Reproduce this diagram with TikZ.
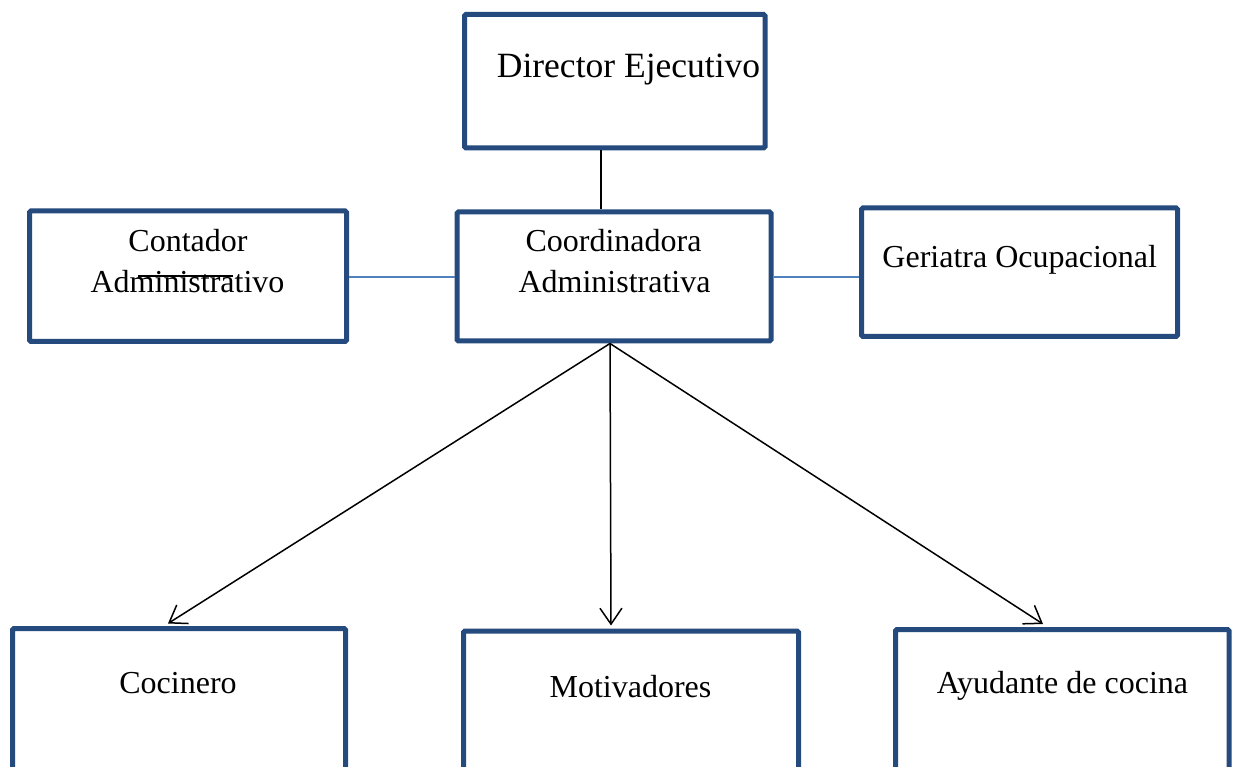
\documentclass[tikz,border=0pt]{standalone}
\usepackage{fontspec}
\setmainfont{Liberation Serif}
\usetikzlibrary{arrows.meta,calc}
\definecolor{boxblue}{RGB}{36,74,126}
\definecolor{linkblue}{RGB}{79,129,189}
\begin{document}
\begin{tikzpicture}[x=1pt,y=-1pt,
  box/.style={draw=boxblue,line width=5pt,rounded corners=1.5pt,inner sep=0pt,fill=white},
  lbl/.style={anchor=base,inner sep=0pt,font=\fontsize{32}{41}\selectfont},
  biglbl/.style={anchor=base,inner sep=0pt,font=\fontsize{35.5}{41}\selectfont},
  link/.style={draw=linkblue,line width=1.5pt},
  plain/.style={draw=black,line width=1.6pt},
  arr/.style={draw=black,line width=1.5pt,-{Straight Barb[length=16pt,width=22pt,line width=1.5pt]}}]
\useasboundingbox (0,0) rectangle (1240,767);
\clip (0,0) rectangle (1240,767);
% boxes
\node[box,minimum width=300.5pt,minimum height=133.5pt] (dir) at (614.75,81.25) {};
\node[box,minimum width=314pt,minimum height=129pt] (coord) at (614,276.5) {};
\node[box,minimum width=317pt,minimum height=130.5pt] (cont) at (188,276.25) {};
\node[box,minimum width=316pt,minimum height=128.5pt] (geri) at (1019.5,272.25) {};
\node[box,minimum width=333pt,minimum height=191.5pt] (coc) at (179,724.25) {};
\node[box,minimum width=335pt,minimum height=189pt] (mot) at (631,725.5) {};
\node[box,minimum width=333.5pt,minimum height=190.5pt] (ayu) at (1062.25,724.75) {};
% texts
\node[biglbl] (tdir) at (628.5,78) {Director Ejecutivo};
\node[lbl] (tcont1) at (188,252) {Contador};
\node[lbl] (tcont2) at (187.5,293) {Administrativo};
\node[lbl] (tcoord1) at (613.5,252) {Coordinadora};
\node[lbl] (tcoord2) at (614.5,293) {Administrativa};
\node[lbl] (tgeri) at (1019.7,268) {Geriatra Ocupacional};
\node[lbl] (tcoc) at (178,693) {Cocinero};
\node[lbl] (tmot) at (630.5,697) {Motivadores};
\node[lbl] (tayu) at (1062.5,693) {Ayudante de cocina};
% stray overline
\coordinate (olA) at (138,276);
\coordinate (olB) at (233,276);
\draw[line width=1.6pt] (olA) -- (olB);
% helper x positions
\coordinate (x601) at (601,0);
\coordinate (x610) at (610,0);
\coordinate (x168) at (168,0);
\coordinate (x611) at (611,0);
\coordinate (x1043) at (1043,0);
\coordinate (y277) at (0,277);
% connectors
\draw[plain] (dir.south -| x601) -- (coord.north -| x601);
\draw[link] (cont.east |- y277) -- (coord.west |- y277);
\draw[link] (coord.east |- y277) -- (geri.west |- y277);
\draw[arr] (coord.south -| x610) -- ($(coc.north -| x168)+(0,-2.5)$);
\draw[arr] (coord.south -| x610) -- ($(mot.north -| x611)+(0,-3)$);
\draw[arr] (coord.south -| x610) -- ($(ayu.north -| x1043)+(0,-3)$);
\end{tikzpicture}
\end{document}
